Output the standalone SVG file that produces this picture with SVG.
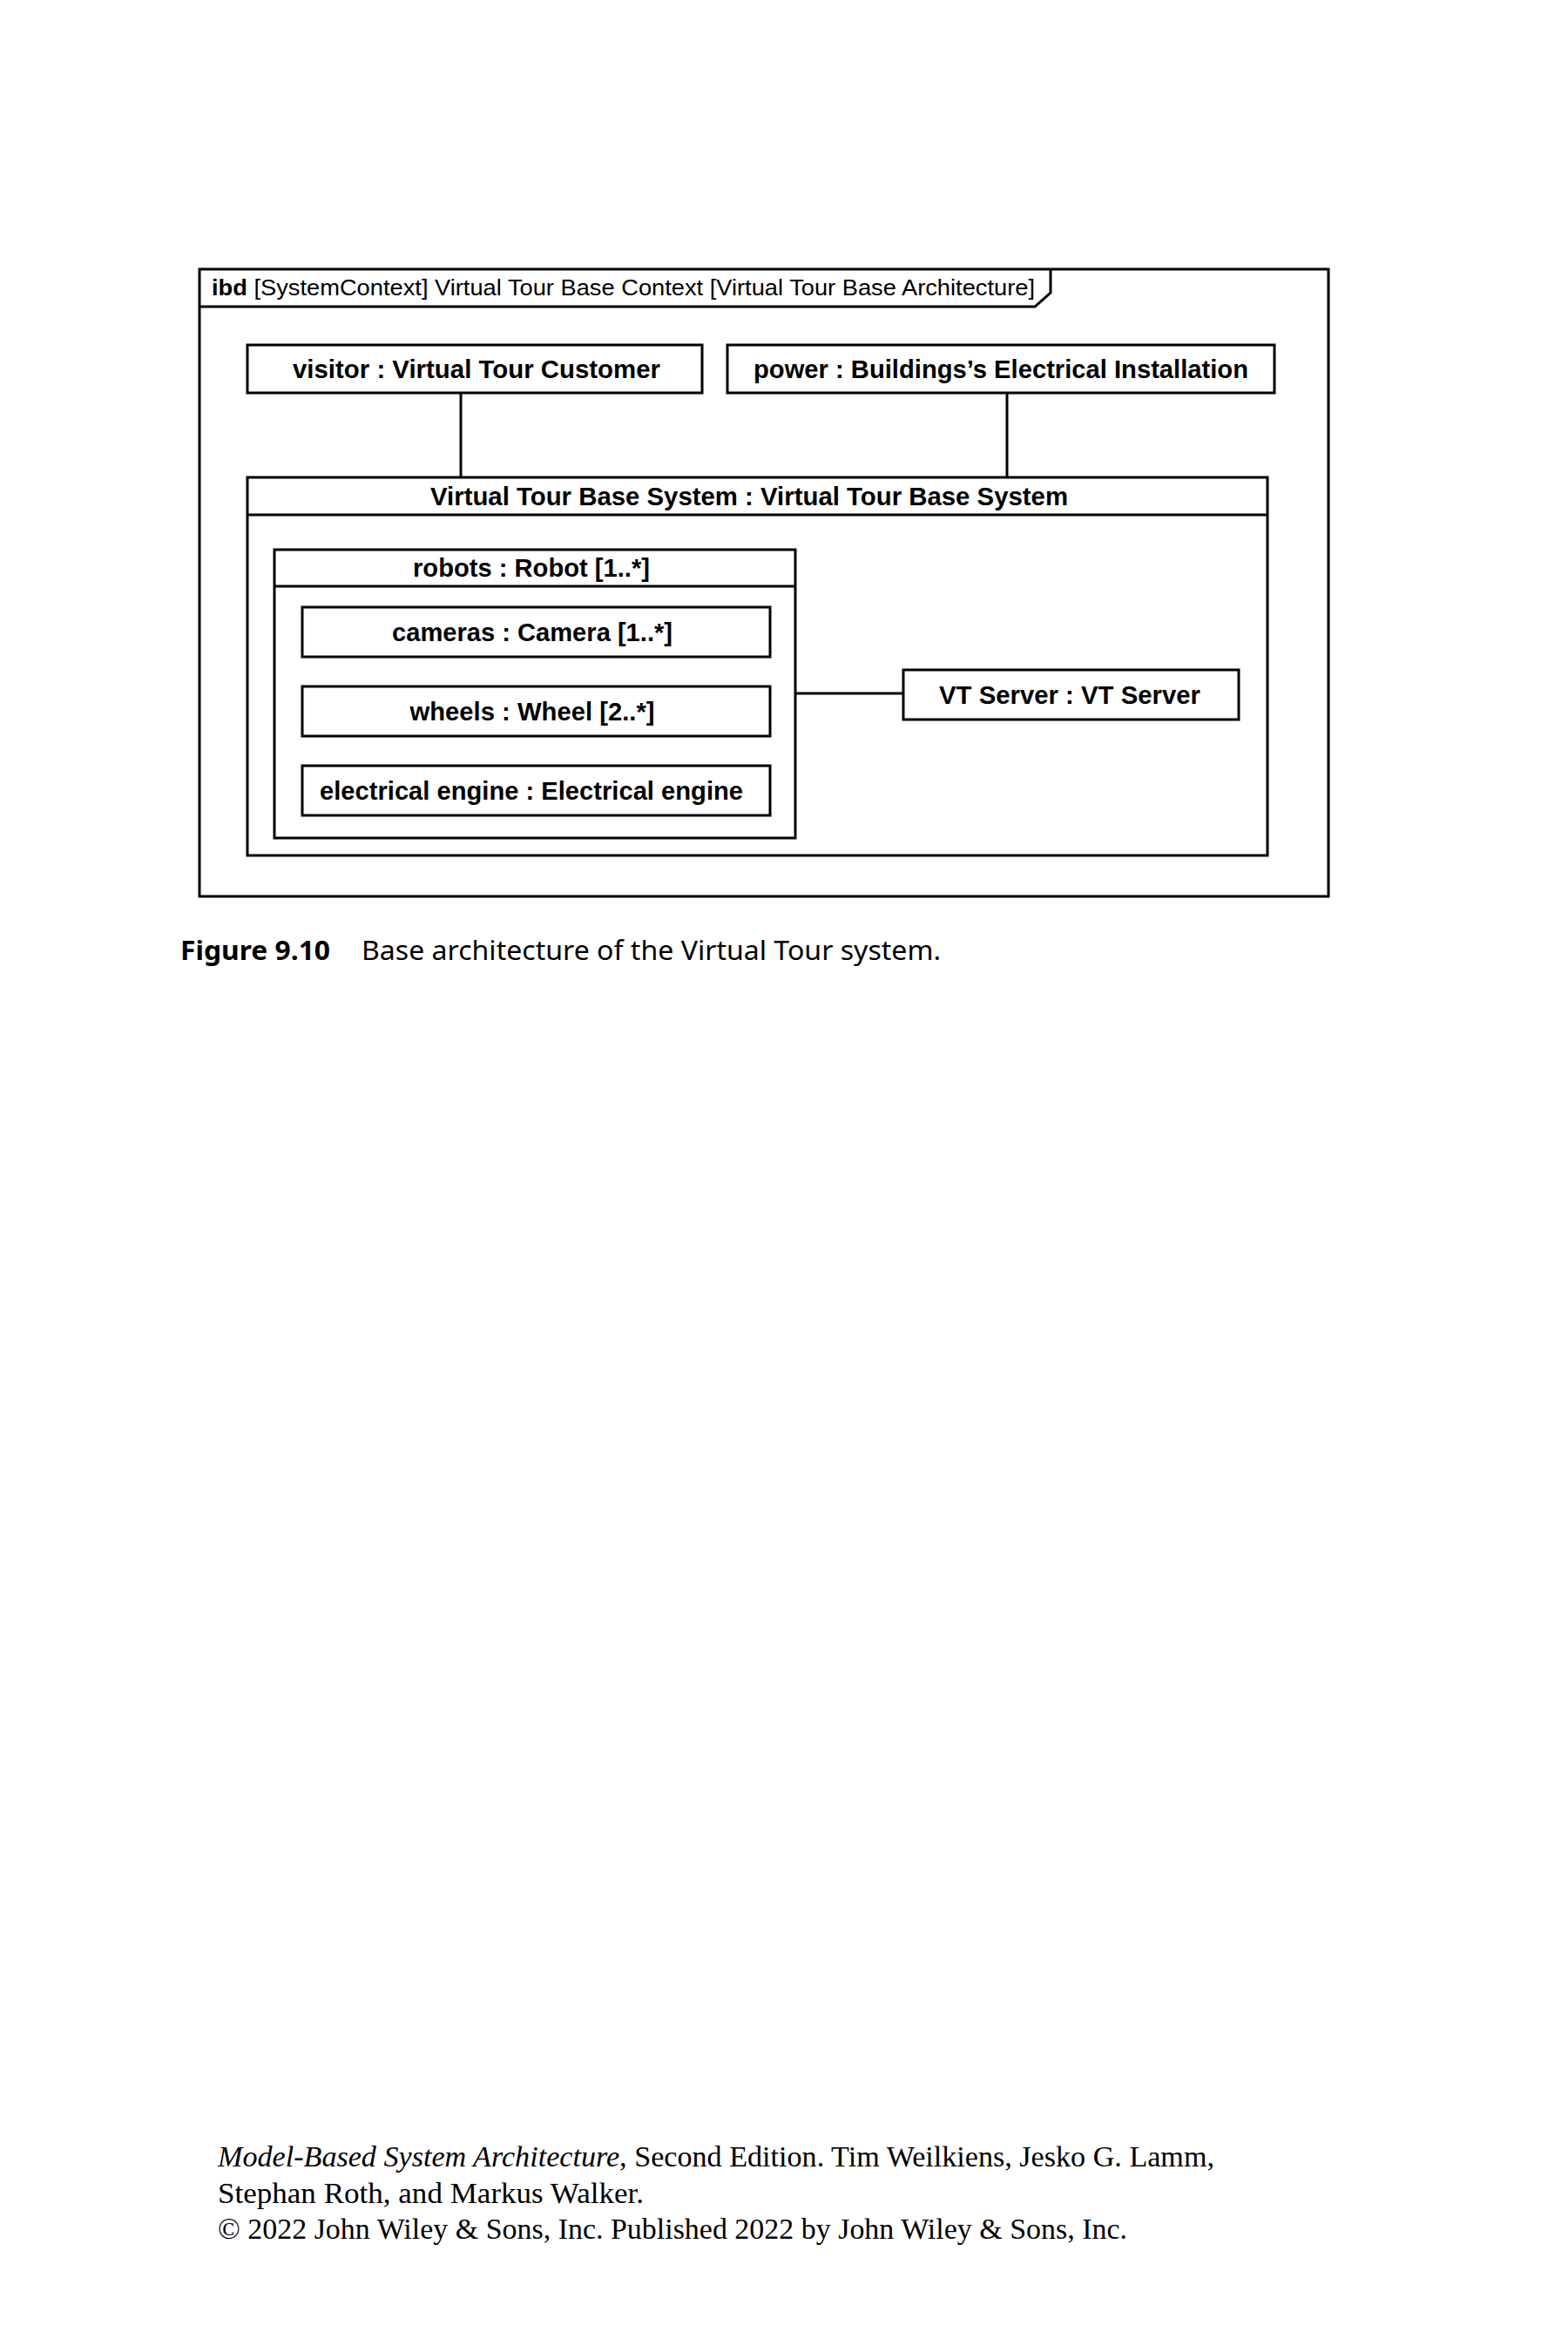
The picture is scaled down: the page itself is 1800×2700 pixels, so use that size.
<svg xmlns="http://www.w3.org/2000/svg" width="1800" height="2700" viewBox="0 0 1800 2700">
<style>
.box{fill:#fff;stroke:#000;stroke-width:3}
.ln{fill:none;stroke:#000;stroke-width:3}
.t{font-family:"Liberation Sans",Arial,sans-serif;font-weight:bold;font-size:29px;text-anchor:middle;fill:#000}
.lbl{font-family:"Liberation Sans",Arial,sans-serif;font-size:26px;fill:#000}
.cap{font-family:"Noto Sans","Open Sans",sans-serif;font-size:31px;fill:#000}
.foot{font-family:"Liberation Serif","Times New Roman",serif;font-size:33px;fill:#000}
</style>
<rect width="1800" height="2700" fill="#fff"/>
<g id="frame">
<rect class="ln" x="229" y="309" width="1296" height="720"/>
<path class="ln" d="M229,352 H1188 L1206,336 V309"/>
<text class="lbl" x="243" y="339" textLength="945" lengthAdjust="spacingAndGlyphs"><tspan font-weight="bold">ibd</tspan> [SystemContext] Virtual Tour Base Context [Virtual Tour Base Architecture]</text>
</g>
<g id="visitor">
<rect class="box" x="284" y="396" width="522" height="55"/>
<text class="t" x="547" y="434" textLength="422" lengthAdjust="spacingAndGlyphs">visitor : Virtual Tour Customer</text>
</g>
<g id="power">
<rect class="box" x="835" y="396" width="628" height="55"/>
<text class="t" x="1149" y="434" textLength="568" lengthAdjust="spacingAndGlyphs">power : Buildings’s Electrical Installation</text>
</g>
<g id="system">
<rect class="box" x="284" y="548" width="1171" height="434"/>
<line class="ln" x1="284" y1="591" x2="1455" y2="591"/>
<text class="t" x="860" y="580" textLength="732" lengthAdjust="spacingAndGlyphs">Virtual Tour Base System : Virtual Tour Base System</text>
</g>
<g id="robots">
<rect class="box" x="315" y="631" width="598" height="331"/>
<line class="ln" x1="315" y1="673" x2="913" y2="673"/>
<text class="t" x="610" y="662" textLength="272" lengthAdjust="spacingAndGlyphs">robots : Robot [1..*]</text>
</g>
<g id="cameras">
<rect class="box" x="347" y="697" width="537" height="57"/>
<text class="t" x="611" y="736" textLength="322" lengthAdjust="spacingAndGlyphs">cameras : Camera [1..*]</text>
</g>
<g id="wheels">
<rect class="box" x="347" y="788" width="537" height="57"/>
<text class="t" x="611" y="827" textLength="281" lengthAdjust="spacingAndGlyphs">wheels : Wheel [2..*]</text>
</g>
<g id="engine">
<rect class="box" x="347" y="879" width="537" height="57"/>
<text class="t" x="610" y="918" textLength="486" lengthAdjust="spacingAndGlyphs">electrical engine : Electrical engine</text>
</g>
<g id="vtserver">
<rect class="box" x="1037" y="769" width="385" height="57"/>
<text class="t" x="1228" y="808" textLength="300" lengthAdjust="spacingAndGlyphs">VT Server : VT Server</text>
</g>
<g id="connectors">
<line class="ln" x1="529" y1="451" x2="529" y2="548"/>
<line class="ln" x1="1156" y1="451" x2="1156" y2="548"/>
<line class="ln" x1="913" y1="796" x2="1037" y2="796"/>
</g>
<g id="caption">
<text class="cap" x="207" y="1102" font-weight="bold" textLength="172" lengthAdjust="spacingAndGlyphs">Figure 9.10</text>
<text class="cap" x="415" y="1102" textLength="665" lengthAdjust="spacingAndGlyphs">Base architecture of the Virtual Tour system.</text>
</g>
<g id="footer">
<text class="foot" x="250" y="2487" textLength="1144" lengthAdjust="spacingAndGlyphs"><tspan font-style="italic">Model-Based System Architecture</tspan>, Second Edition. Tim Weilkiens, Jesko G. Lamm,</text>
<text class="foot" x="250" y="2529" textLength="489" lengthAdjust="spacingAndGlyphs">Stephan Roth, and Markus Walker.</text>
<text class="foot" x="250" y="2570" textLength="1044" lengthAdjust="spacingAndGlyphs">© 2022 John Wiley &amp; Sons, Inc. Published 2022 by John Wiley &amp; Sons, Inc.</text>
</g>
</svg>
